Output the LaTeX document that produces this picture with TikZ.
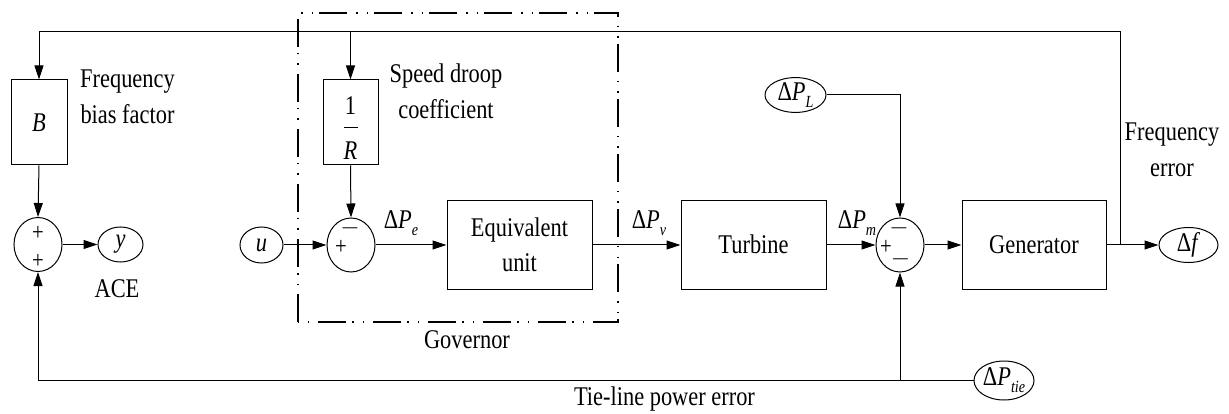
\documentclass[tikz,border=0pt]{standalone}
\usepackage{fontspec}
\setmainfont{Liberation Serif}[FakeStretch=0.83]
\usetikzlibrary{arrows.meta,shapes.geometric}
\newcommand\lbsub[1]{\raisebox{-0.55ex}{\fontsize{17}{17}\selectfont\textit{#1}}}
\begin{document}
\begin{tikzpicture}[x=1pt,y=-1pt,
  line width=1pt,
  >={Triangle[length=14pt,width=9pt]},
  font=\fontsize{27}{36}\selectfont,
  blk/.style={draw,rectangle,inner sep=0pt},
  sumc/.style={draw,ellipse,minimum width=48pt,minimum height=54pt,inner sep=0pt},
  sig/.style={draw,ellipse,inner sep=0pt},
  lbl/.style={inner sep=0pt,anchor=base,align=center},
  sgn/.style={inner sep=0pt,font=\fontsize{25}{25}\selectfont},
  gov/.style={line width=2.6pt,dash pattern=on 28pt off 9pt on 1.5pt off 9pt on 1.5pt off 6pt}
]
\useasboundingbox (0,0) rectangle (1229,414);

% blocks
\node[blk,minimum width=56pt,minimum height=85pt] (B) at (39,122.5) {\textit{B}};
\node[blk,minimum width=55pt,minimum height=85pt] (R) at (350.5,122.5) {};
\node[inner sep=0pt] (Rone) at (350.5,106) {1};
\draw[line width=0.9pt] (343.5,127) -- (357.5,127);
\node[inner sep=0pt] (Rden) at (350.5,151) {\textit{R}};
\node[blk,minimum width=145pt,minimum height=88pt,align=center,font=\fontsize{27}{35}\selectfont] (eq) at (519.5,245) {Equivalent\\unit};
\node[blk,minimum width=145pt,minimum height=88pt] (tur) at (753.5,245) {\raisebox{1.5pt}{Turbine}};
\node[blk,minimum width=144pt,minimum height=88pt] (gen) at (1034,245) {\raisebox{1.5pt}{Generator}};

% summing junctions
\node[sumc] (s1) at (38,244.5) {};
\node[sumc] (s2) at (351,245) {};
\node[sumc] (s3) at (900,245) {};
\node[sgn] (s1a) at (38,233) {+};
\node[sgn] (s1b) at (38,261) {+};
\node[sgn] (s2a) at (350,228) {$-$};
\node[sgn] (s2b) at (341,247) {+};
\node[sgn] (s3a) at (899,228) {$-$};
\node[sgn] (s3b) at (886,247) {+};
\node[sgn] (s3c) at (900.5,259) {$-$};

% signals
\node[sig,minimum width=45pt,minimum height=35pt] (yv) at (120.5,244.5) {\textit{y}};
\node[sig,minimum width=43pt,minimum height=36pt] (u) at (261.5,245) {\textit{u}};
\node[sig,minimum width=61pt,minimum height=30pt] (pl) at (795.5,95) {Δ\textit{P}\lbsub{L}};
\node[sig,minimum width=59pt,minimum height=30pt] (df) at (1188.5,245) {Δ\textit{f}};
\node[sig,minimum width=60pt,minimum height=39pt] (pt) at (1004,380.5) {Δ\textit{P}\lbsub{tie}};

% coordinates
\coordinate (j) at (1120,245);
\coordinate (tr) at (1120,32);
\coordinate (tm) at (350.5,32);
\coordinate (bj) at (900,380.5);

% connectors
\draw (gen.east) -- (j);
\draw[->] (j) -- (df.west);
\draw[->] (j) -- (tr) -| (B.north);
\draw[->] (tm) -- (R.north);
\draw[->] (B.south) -- (s1.north);
\draw[->] (s1.east) -- (yv.west);
\draw[->] (R.south) -- (s2.north);
\draw[->] (u.east) -- (s2.west);
\draw[->] (s2.east) -- (eq.west);
\draw[->] (eq.east) -- (tur.west);
\draw[->] (tur.east) -- (s3.west);
\draw[->] (s3.east) -- (gen.west);
\draw[->] (pl.east) -| (s3.north);
\draw[->] (pt.west) -| (s1.south);
\draw[->] (bj) -- (s3.south);

% governor box
\draw[gov] (298,322) -- (298,13) -- (618,13) -- (618,322) -- cycle;

% labels
\node[lbl] (lpe) at (401,229) {Δ\textit{P}\lbsub{e}};
\node[lbl] (lpv) at (649,229) {Δ\textit{P}\lbsub{v}};
\node[lbl] (lpm) at (857,229) {Δ\textit{P}\lbsub{m}};
\node[lbl] (tb) at (127.5,124) {Frequency\\bias factor};
\node[lbl] (tr2) at (446,119) {Speed droop\\coefficient};
\node[lbl] (tf) at (1172,177) {Frequency\\error};
\node[lbl] (tace) at (117,297) {ACE};
\node[lbl] (tgov) at (467,348) {Governor};
\node[lbl] (ttie) at (664.5,405) {Tie-line power error};
\end{tikzpicture}
\end{document}
